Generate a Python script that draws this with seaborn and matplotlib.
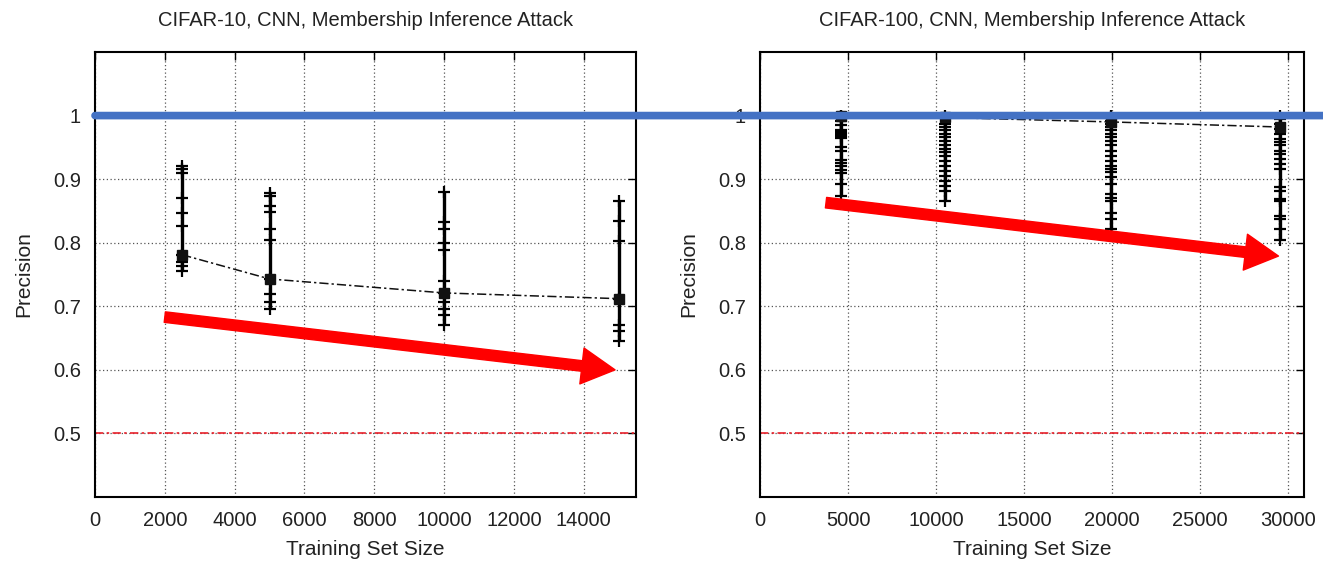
import matplotlib
matplotlib.use("Agg")
import matplotlib.pyplot as plt
from matplotlib.patches import ConnectionPatch
from matplotlib.transforms import blended_transform_factory
import pandas as pd
import seaborn as sns

# CIFAR-10 per-class precision at each training set size
c10_sizes = [2500, 5000, 10000, 15000]
c10_mean = [0.781, 0.743, 0.721, 0.712]
c10_prec_2500 = [0.920, 0.916, 0.910, 0.871, 0.846, 0.826, 0.781, 0.769, 0.764, 0.756]
c10_prec_5000 = [0.878, 0.873, 0.857, 0.849, 0.822, 0.804, 0.743, 0.719, 0.706, 0.695]
c10_prec_10000 = [0.880, 0.833, 0.821, 0.800, 0.789, 0.740, 0.721, 0.706, 0.696, 0.687, 0.671]
c10_prec_15000 = [0.866, 0.834, 0.802, 0.712, 0.671, 0.661, 0.645]

# CIFAR-100 per-class precision at each training set size
c100_sizes = [4600, 10520, 19920, 29540]
c100_mean = [0.999, 0.997, 0.990, 0.982]
c100_prec_4600 = [1.0, 1.0, 0.998, 0.992, 0.985, 0.978, 0.975, 0.972, 0.970, 0.968,
                  0.965, 0.950, 0.945, 0.930, 0.925, 0.920, 0.915, 0.910, 0.892, 0.874]
c100_prec_10520 = [1.0, 0.987, 0.982, 0.977, 0.971, 0.966, 0.960, 0.953, 0.947, 0.942,
                   0.937, 0.929, 0.921, 0.913, 0.905, 0.897, 0.889, 0.882, 0.866]
c100_prec_19920 = [1.0, 0.997, 0.992, 0.987, 0.982, 0.977, 0.971, 0.966, 0.960, 0.953,
                   0.945, 0.937, 0.929, 0.921, 0.916, 0.911, 0.903, 0.892, 0.876, 0.871,
                   0.866, 0.847, 0.837, 0.821]
c100_prec_29540 = [1.0, 0.995, 0.987, 0.979, 0.971, 0.963, 0.958, 0.953, 0.945, 0.940,
                   0.932, 0.924, 0.916, 0.887, 0.882, 0.869, 0.866, 0.842, 0.837, 0.821, 0.805]

baseline = 0.5

sns.set_style("white")
plt.rcParams['font.family'] = ['Liberation Sans', 'DejaVu Sans']
TXT = "#222222"


def to_frame(sizes, groups):
    rows = []
    for s, vals in zip(sizes, groups):
        for v in vals:
            rows.append({"size": s, "precision": v})
    return pd.DataFrame(rows)


def draw_panel(ax, sizes, groups, mean, title, xmax, xticks):
    df = to_frame(sizes, groups)
    spread = df.groupby("size")["precision"].agg(["min", "max"]).reset_index()
    ax.vlines(spread["size"], spread["min"], spread["max"], color="black", lw=2.4, zorder=3)
    sns.scatterplot(data=df, x="size", y="precision", marker="+", s=65, color="black",
                    linewidth=1.6, ax=ax, zorder=4, legend=False)
    mdf = pd.DataFrame({"size": sizes, "precision": mean})
    ax.plot(mdf["size"], mdf["precision"], color="#111111", lw=1.1,
            dashes=[6, 2, 1.5, 2], marker="s", ms=6.5, zorder=5)
    ax.axhline(baseline, color="#e8202a", lw=1.2, dashes=[5, 2, 1.5, 2], zorder=2)

    ax.set_xlim(0, xmax)
    ax.set_ylim(0.4, 1.1)
    ax.set_xticks(xticks)
    ax.set_xticklabels([str(t) for t in xticks])
    yt = [0.5, 0.6, 0.7, 0.8, 0.9, 1.0]
    ax.set_yticks(yt)
    ax.set_yticklabels(["0.5", "0.6", "0.7", "0.8", "0.9", "1"])
    ax.grid(True, color="#555555", lw=0.9, linestyle=(0, (1, 2)))
    ax.tick_params(direction="in", length=6, width=1, top=True, right=True,
                   labelsize=14.5, pad=10, colors="black", labelcolor=TXT)
    for sp in ax.spines.values():
        sp.set_visible(True)
        sp.set_color("black")
        sp.set_linewidth(1.5)
    ax.set_xlabel("Training Set Size", fontsize=15, labelpad=7, color=TXT)
    ax.set_ylabel("Precision", fontsize=15, labelpad=14, color=TXT)
    ax.set_title(title, fontsize=14.5, pad=19, color=TXT)


fig = plt.figure(figsize=(13.23, 5.62), dpi=100)
ax1 = fig.add_axes([95 / 1323, 65 / 562, 541 / 1323, 445 / 562])
ax2 = fig.add_axes([760 / 1323, 65 / 562, 544 / 1323, 445 / 562])

draw_panel(ax1, c10_sizes, [c10_prec_2500, c10_prec_5000, c10_prec_10000, c10_prec_15000],
           c10_mean, "CIFAR-10, CNN, Membership Inference Attack", 15500,
           list(range(0, 15000, 2000)))
draw_panel(ax2, c100_sizes, [c100_prec_4600, c100_prec_10520, c100_prec_19920, c100_prec_29540],
           c100_mean, "CIFAR-100, CNN, Membership Inference Attack", 30900,
           list(range(0, 30001, 5000)))

# red trend arrows
arrow_style = "simple,head_width=1.3,head_length=1.2,tail_width=0.38"
ax1.annotate("", xy=(14900, 0.600), xytext=(2000, 0.683),
             arrowprops=dict(arrowstyle=arrow_style, color="red", mutation_scale=20,
                             shrinkA=0, shrinkB=0), zorder=6)
ax2.annotate("", xy=(29450, 0.779), xytext=(3750, 0.863),
             arrowprops=dict(arrowstyle=arrow_style, color="red", mutation_scale=20,
                             shrinkA=0, shrinkB=0), zorder=6)

# blue reference line at precision 1 across both panels
blue = ConnectionPatch(xyA=(0, 1.0), coordsA=ax1.transData,
                       xyB=(1.0, 1.0), coordsB=blended_transform_factory(fig.transFigure, ax1.transData),
                       color="#4472C4", lw=5.5, zorder=10)
fig.add_artist(blue)

fig.savefig("out.png", dpi=100)
